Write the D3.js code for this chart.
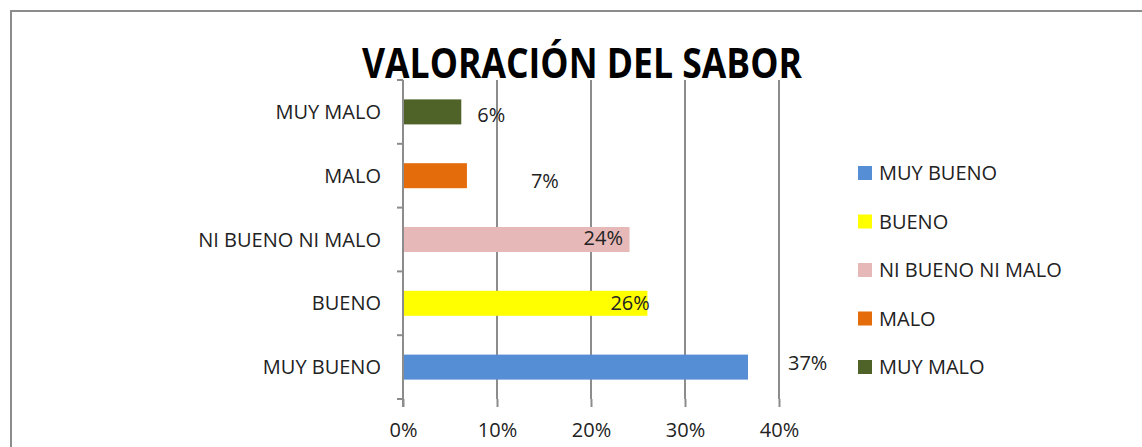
<!DOCTYPE html>
<html>
<head>
<meta charset="utf-8">
<script src="https://cdn.jsdelivr.net/npm/d3@7"></script>
<style>
  body { margin: 0; background: #fff; }
  svg { display: block; font-family: "Open Sans", Lato, sans-serif; }
</style>
</head>
<body>
<div id="chart"></div>
<script>
// Chart data
const categories = ["MUY BUENO", "BUENO", "NI BUENO NI MALO", "MALO", "MUY MALO"];
const values = [0.367, 0.26, 0.241, 0.068, 0.062];
const valueLabels = ["37%", "26%", "24%", "7%", "6%"];
const colors = ["#558ed5", "#ffff00", "#e6b9b8", "#e46c0a", "#4f6228"];
const xTicks = [0, 0.1, 0.2, 0.3, 0.4];

// label nudges (Excel had them dragged around by hand)
const labelDx = [40, -37, -46, 64, 16];
const labelDy = [-4, 0, -2, 5, 3];

const width = 1142;
const height = 447;
const margin = { top: 80, left: 403, right: 363, bottom: 48 };

const svg = d3.select("#chart")
  .append("svg")
  .attr("width", width)
  .attr("height", height);

// outer frame
svg.append("rect")
  .attr("x", 11).attr("y", 11)
  .attr("width", width + 20).attr("height", height + 20)
  .attr("fill", "none")
  .attr("stroke", "#8c8c8c")
  .attr("stroke-width", 2);

const x = d3.scaleLinear()
  .domain([0, 0.4])
  .range([margin.left, width - margin.right]);

const y = d3.scaleBand()
  .domain(categories.slice().reverse())
  .range([margin.top, height - margin.bottom])
  .paddingInner(0.6)
  .paddingOuter(0.3);

const plotTop = margin.top;
const plotBottom = height - margin.bottom;

// vertical gridlines
svg.append("g")
  .selectAll("line")
  .data(xTicks.slice(1))
  .join("line")
  .attr("x1", d => x(d)).attr("x2", d => x(d))
  .attr("y1", plotTop).attr("y2", plotBottom)
  .attr("stroke", "#8c8c8c")
  .attr("stroke-width", 2);

// bottom axis (ticks + labels, no line)
const xAxis = svg.append("g")
  .attr("transform", `translate(0,${plotBottom})`)
  .call(d3.axisBottom(x).tickValues(xTicks).tickFormat(d3.format(".0%")).tickSize(8).tickPadding(16));
xAxis.select(".domain").remove();
xAxis.selectAll("line").attr("stroke", "#8c8c8c").attr("stroke-width", 2);
xAxis.selectAll("text")
  .attr("fill", "#222")
  .style("font-size", "20px")
  .style("font-family", "'Open Sans', sans-serif");

// left axis: ticks at band boundaries
const step = (plotBottom - plotTop) / categories.length;
const bounds = d3.range(categories.length + 1).map(i => plotTop + i * step);
svg.append("line")
  .attr("x1", x(0)).attr("x2", x(0))
  .attr("y1", plotTop).attr("y2", plotBottom + 8)
  .attr("stroke", "#8c8c8c").attr("stroke-width", 2);
svg.append("g")
  .selectAll("line")
  .data(bounds)
  .join("line")
  .attr("x1", x(0) - 6).attr("x2", x(0))
  .attr("y1", d => d).attr("y2", d => d)
  .attr("stroke", "#8c8c8c").attr("stroke-width", 2);

const yBand = d3.scaleBand()
  .domain(categories.slice().reverse())
  .range([plotTop, plotBottom]);

// category labels
svg.append("g")
  .selectAll("text")
  .data(categories)
  .join("text")
  .attr("x", x(0) - 22)
  .attr("y", d => yBand(d) + yBand.bandwidth() / 2)
  .attr("dy", "0.35em")
  .attr("text-anchor", "end")
  .attr("fill", "#222")
  .style("font-size", "20px")
  .text(d => d);

// bars
const barH = 25;
svg.append("g")
  .selectAll("rect")
  .data(categories)
  .join("rect")
  .attr("x", x(0) + 1)
  .attr("y", d => yBand(d) + yBand.bandwidth() / 2 - barH / 2)
  .attr("width", (d, i) => x(values[i]) - x(0) - 1)
  .attr("height", barH)
  .attr("fill", (d, i) => colors[i]);

// value labels
svg.append("g")
  .selectAll("text")
  .data(categories)
  .join("text")
  .attr("x", (d, i) => x(values[i]) + labelDx[i])
  .attr("y", (d, i) => yBand(d) + yBand.bandwidth() / 2 + labelDy[i])
  .attr("dy", "0.35em")
  .attr("fill", "#222")
  .style("font-size", "20px")
  .text((d, i) => valueLabels[i]);

// title
svg.append("text")
  .attr("x", 582)
  .attr("y", 78)
  .attr("text-anchor", "middle")
  .attr("textLength", 440)
  .attr("lengthAdjust", "spacingAndGlyphs")
  .style("font-size", "42px")
  .style("font-weight", "bold")
  .attr("fill", "#000")
  .text("VALORACIÓN DEL SABOR");

// legend
const legend = svg.append("g")
  .attr("transform", "translate(858,173)")
  .selectAll("g")
  .data(categories)
  .join("g")
  .attr("transform", (d, i) => `translate(0,${i * 48.5})`);
legend.append("rect")
  .attr("x", 0).attr("y", -7)
  .attr("width", 14).attr("height", 14)
  .attr("fill", (d, i) => colors[i]);
legend.append("text")
  .attr("x", 21)
  .attr("dy", "0.35em")
  .attr("fill", "#222")
  .style("font-size", "20px")
  .text(d => d);
</script>
</body>
</html>
